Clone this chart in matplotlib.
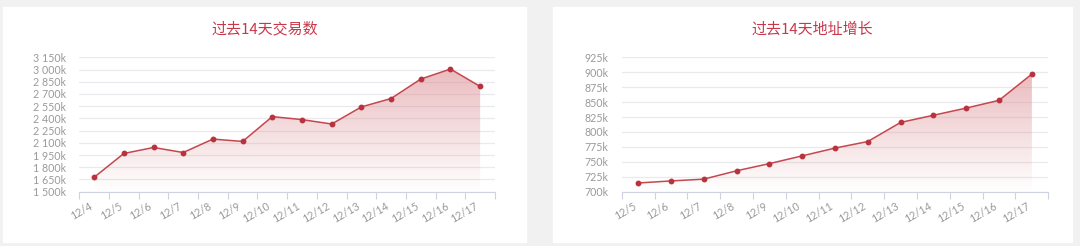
import numpy as np
import matplotlib.pyplot as plt
from matplotlib.patches import Rectangle
from matplotlib.ticker import FuncFormatter

plt.rcParams['font.family'] = ['Lato', 'Noto Sans CJK SC', 'DejaVu Sans']

# left chart: transactions (k)
tx_days = ['12/4', '12/5', '12/6', '12/7', '12/8', '12/9', '12/10',
           '12/11', '12/12', '12/13', '12/14', '12/15', '12/16', '12/17']
tx_values = [1677, 1969, 2043, 1981, 2146, 2117, 2422,
             2385, 2331, 2541, 2644, 2883, 3006, 2792]

# right chart: address growth (k)
addr_days = ['12/5', '12/6', '12/7', '12/8', '12/9', '12/10', '12/11',
             '12/12', '12/13', '12/14', '12/15', '12/16', '12/17']
addr_values = [714.6, 718, 721, 735, 747, 760, 773,
               784, 816, 828, 840, 853, 897]

LINE = '#c5474f'
DOT = '#b8333d'
TITLE = '#c8374a'
TICK = '#9a9a9a'
AXIS = '#cfd3e0'
GRID = '#e9e9ee'


def kfmt(v, pos):
    s = '{:,.0f}'.format(v).replace(',', ' ')
    return s + 'k'


def draw(ax, days, values, ymin, ymax, step):
    n = len(days)
    x = np.arange(n)
    ax.set_xlim(-0.5, n - 0.5)
    ax.set_ylim(ymin, ymax)
    ax.set_yticks(np.arange(ymin, ymax + step / 2, step))
    ax.yaxis.set_major_formatter(FuncFormatter(kfmt))
    ax.grid(axis='y', color=GRID, lw=0.9)
    ax.set_axisbelow(True)
    for s in ['top', 'right', 'left']:
        ax.spines[s].set_visible(False)
    ax.spines['bottom'].set_color(AXIS)
    ax.tick_params(axis='y', length=0, labelsize=7.7, labelcolor=TICK, pad=9.5)

    ax.set_xticks(x)
    ax.set_xticklabels(days, rotation=30, ha='right', fontsize=7.7, color=TICK)
    ax.tick_params(axis='x', which='major', length=0, pad=6)
    ax.set_xticks(np.arange(n + 1) - 0.5, minor=True)
    ax.tick_params(axis='x', which='minor', length=5, color=AXIS, width=0.8)

    # gradient area
    poly = ax.fill_between(x, values, ymin, color='none', lw=0)
    top = max(values)
    grad = np.zeros((100, 1, 4))
    c = np.array([0.86, 0.55, 0.57])
    grad[:, 0, :3] = c
    grad[:, 0, 3] = np.linspace(0.0, 0.58, 100)
    im = ax.imshow(grad, extent=[-0.5, n - 0.5, ymin, top], origin='lower',
                   aspect='auto', zorder=1)
    im.set_clip_path(poly.get_paths()[0], transform=ax.transData)
    ax.set_xlim(-0.5, n - 0.5)
    ax.set_ylim(ymin, ymax)

    ax.plot(x, values, color=LINE, lw=1.1, zorder=3)
    ax.plot(x, values, 'o', ms=3.2, color=DOT, zorder=4)


fig = plt.figure(figsize=(10.8, 2.46), dpi=100, facecolor='#f1f1f1')
W, H = 1080, 246


def panel(x0, y0, x1, y1):
    fig.patches.append(Rectangle((x0 / W, 1 - y1 / H), (x1 - x0) / W, (y1 - y0) / H,
                                 transform=fig.transFigure, color='white', zorder=-5))


panel(3, 7, 526, 242)
panel(553, 7, 1072, 242)

ax1 = fig.add_axes([79.3 / W, 1 - 191.7 / H, (495 - 79.3) / W, 134.4 / H])
ax2 = fig.add_axes([621.7 / W, 1 - 191.7 / H, (1048.3 - 621.7) / W, 134.4 / H])
for a in (ax1, ax2):
    a.set_facecolor('none')

draw(ax1, tx_days, tx_values, 1500, 3150, 150)
draw(ax2, addr_days, addr_values, 700, 925, 25)

fig.text(264.5 / W, 1 - 29 / H, '过去14天交易数', ha='center', va='center',
         fontsize=10.8, color=TITLE, family=['Noto Sans CJK SC', 'DejaVu Sans'])
fig.text(812.5 / W, 1 - 29 / H, '过去14天地址增长', ha='center', va='center',
         fontsize=10.8, color=TITLE, family=['Noto Sans CJK SC', 'DejaVu Sans'])

fig.savefig('out.png', dpi=100, facecolor=fig.get_facecolor())
